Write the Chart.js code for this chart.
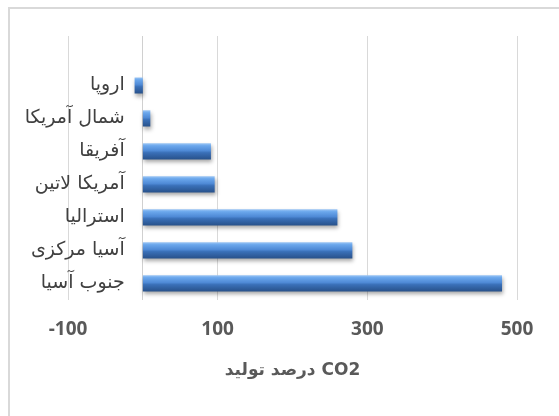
<!DOCTYPE html>
<html>
<head>
<meta charset="utf-8">
<script src="https://cdn.jsdelivr.net/npm/chart.js@4"></script>
<style>
  body { margin: 0; background: #fff; overflow: hidden; }
  #frame { position: absolute; left: 8px; top: 7px; width: 600px; height: 500px; border: 2px solid #d9d9d9; }
  #wrap { position: absolute; left: 0; top: 0; width: 559px; height: 416px; }
</style>
</head>
<body>
<div id="frame"></div>
<div id="wrap"><canvas id="barChart" width="559" height="416"></canvas></div>
<script>
// first slot is empty, Excel left a blank row above Europe
const regions = ['', 'اروپا', 'شمال آمریکا', 'آفریقا', 'آمریکا لاتین', 'استرالیا', 'آسیا مرکزی', 'جنوب آسیا'];
const co2 = [null, -11, 10, 91, 96, 260, 280, 480];
const xTicks = [-100, 100, 300, 500];
const axisTitle = 'درصد تولید CO2';

const barPct = 0.49;

function barFill(ctx) {
  const chart = ctx.chart;
  const y = chart.scales.y;
  if (!y || y.height == null) return '#4a86d0';
  const mid = y.getPixelForValue(ctx.dataIndex);
  const h = y.height / regions.length * barPct;
  const g = chart.ctx.createLinearGradient(0, mid - h / 2, 0, mid + h / 2);
  g.addColorStop(0, '#9cc6f5');
  g.addColorStop(0.15, '#6ba7ec');
  g.addColorStop(0.45, '#4f8ad6');
  g.addColorStop(0.58, '#3a70b8');
  g.addColorStop(1, '#28518a');
  return g;
}

const barShadow = {
  id: 'barShadow',
  beforeDatasetsDraw(chart) {
    const c = chart.ctx;
    c.save();
    c.shadowColor = 'rgba(0,0,0,0.35)';
    c.shadowBlur = 4;
    c.shadowOffsetX = 1;
    c.shadowOffsetY = 3;
  },
  afterDatasetsDraw(chart) {
    chart.ctx.restore();
  }
};

new Chart(document.getElementById('barChart'), {
  type: 'bar',
  data: {
    labels: regions,
    datasets: [{ data: co2, backgroundColor: barFill, barPercentage: barPct, categoryPercentage: 1 }]
  },
  options: {
    indexAxis: 'y',
    responsive: false,
    animation: false,
    layout: { padding: { left: 68, right: 42, top: 36, bottom: 31 } },
    plugins: { legend: { display: false }, tooltip: { enabled: false } },
    scales: {
      x: {
        min: -100, max: 500,
        afterBuildTicks: s => { s.ticks = xTicks.map(v => ({ value: v })); },
        grid: { color: '#d9d9d9', drawTicks: false },
        border: { display: false },
        ticks: { color: '#595959', padding: 18, font: { family: 'Open Sans', size: 19, weight: 'bold' } },
        title: { display: true, text: axisTitle, color: '#595959', padding: { top: 2 },
                 font: { family: 'DejaVu Sans', size: 17, weight: 'bold' } }
      },
      y: {
        position: { x: 0 },
        grid: { display: false },
        border: { color: '#d0d0d0' },
        ticks: { color: '#404040', callback: (v, i) => regions[i] + '   ',
                 font: { family: 'DejaVu Sans', size: 19 } }
      }
    }
  },
  plugins: [barShadow]
});
</script>
</body>
</html>
